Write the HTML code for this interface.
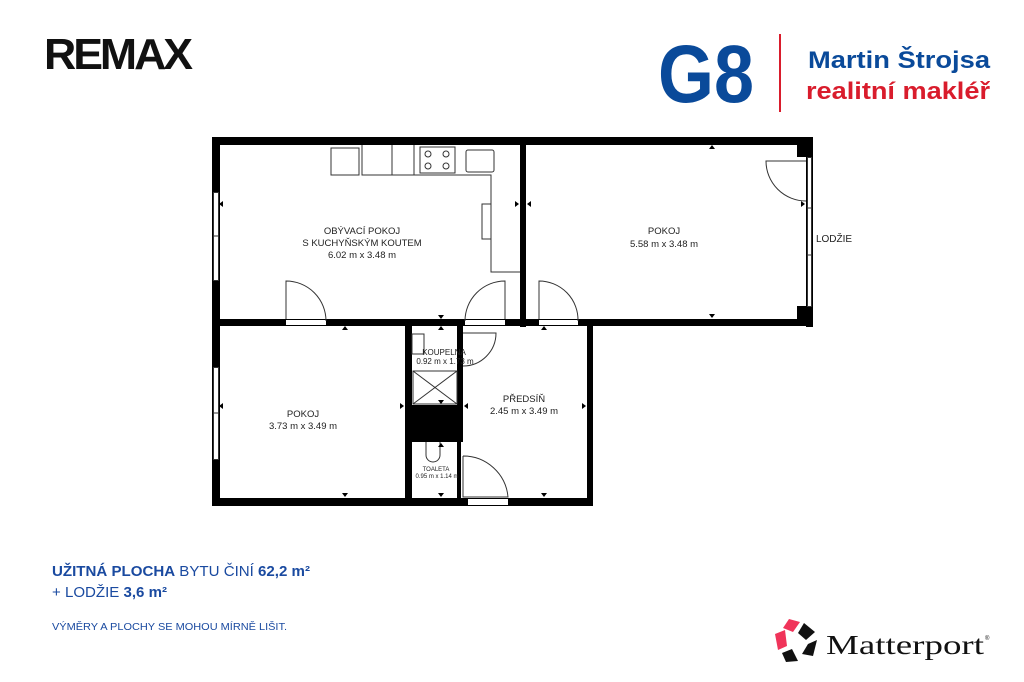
<!DOCTYPE html>
<html><head><meta charset="utf-8"><style>
html,body{margin:0;padding:0;background:#fff;width:1024px;height:682px;overflow:hidden}
svg{display:block}
</style></head><body>
<svg width="1024" height="682" viewBox="0 0 1024 682" xmlns="http://www.w3.org/2000/svg" font-family="Liberation Sans, DejaVu Sans, sans-serif">
<!-- REMAX -->
<text x="44" y="69" font-size="44" font-weight="bold" letter-spacing="-3" fill="#111" textLength="146" lengthAdjust="spacingAndGlyphs">REMAX</text>
<!-- G8 -->
<text x="658" y="102" font-size="82" font-weight="bold" fill="#0a4a9a" textLength="96" lengthAdjust="spacingAndGlyphs">G8</text>
<rect x="779" y="34" width="2" height="78" fill="#d91c2c"/>
<text x="808" y="68" font-size="24" font-weight="bold" fill="#0a4a9a" textLength="182" lengthAdjust="spacingAndGlyphs">Martin Štrojsa</text>
<text x="806" y="99" font-size="24" font-weight="bold" fill="#d91c2c" textLength="184" lengthAdjust="spacingAndGlyphs">realitní makléř</text>

<!-- floor plan -->
<g fill="#000">
 <rect x="212" y="137" width="601" height="8"/>
 <rect x="212" y="137" width="8" height="369"/>
 <rect x="806" y="137" width="7" height="190"/>
 <rect x="797" y="145" width="10" height="12"/>
 <rect x="797" y="306" width="10" height="14"/>
 <rect x="520" y="137" width="6" height="190"/>
 <rect x="212" y="319" width="601" height="7"/>
 <rect x="212" y="498" width="381" height="8"/>
 <rect x="587" y="320" width="6" height="186"/>
 <rect x="405" y="320" width="7" height="186"/>
 <rect x="457" y="320" width="6" height="120"/>
 <rect x="405" y="405" width="58" height="37"/>
 <rect x="457" y="440" width="4" height="60"/>
</g>
<g fill="#fff">
 <rect x="213" y="192" width="6" height="88"/>
 <rect x="213" y="367" width="6" height="92"/>
 <rect x="807" y="157" width="5" height="149"/>
 <rect x="286" y="320" width="40" height="5"/>
 <rect x="465" y="320" width="40" height="5"/>
 <rect x="539" y="320" width="39" height="5"/>
 <rect x="468" y="499" width="40" height="6"/>
</g>
<g fill="none" stroke="#333" stroke-width="1">
 <rect x="213.5" y="192.5" width="5" height="88"/><line x1="213" y1="236" x2="219" y2="236"/>
 <rect x="213.5" y="367.5" width="5" height="92"/><line x1="213" y1="413" x2="219" y2="413"/>
 <rect x="807.5" y="157.5" width="4" height="149"/><line x1="807" y1="208" x2="812" y2="208"/><line x1="807" y1="255" x2="812" y2="255"/>
 <polyline points="362,145 362,175 491,175 491,272 520,272"/>
 <rect x="331" y="148" width="28" height="27"/>
 <line x1="392" y1="145" x2="392" y2="175"/><line x1="414" y1="145" x2="414" y2="175"/>
 <rect x="420" y="147" width="35" height="26"/>
 <circle cx="428" cy="154" r="3"/><circle cx="446" cy="154" r="3"/><circle cx="428" cy="166" r="3"/><circle cx="446" cy="166" r="3"/>
 <rect x="466" y="150" width="28" height="22" rx="2"/>
 <rect x="482" y="204" width="9" height="35"/>
 <path d="M286 319 V281 A40 40 0 0 1 326 321"/>
 <path d="M505 319 V281 A40 40 0 0 0 465 321"/>
 <path d="M539 319 V281 A39 39 0 0 1 578 321"/>
 <path d="M806 161 H766 A40 40 0 0 0 806 201"/>
 <path d="M463 333 H496 A33 33 0 0 1 463 366"/>
 <path d="M463 456 V497 H508 A45 45 0 0 0 463 456"/>
 <rect x="412" y="334" width="12" height="20"/>
 <rect x="413" y="371" width="44" height="33"/><line x1="413" y1="371" x2="457" y2="404"/><line x1="457" y1="371" x2="413" y2="404"/>
 <path d="M426 442 V455 A7 7 0 0 0 440 455 V442"/>
</g>
<g fill="#000">
 <path d="M219 204 l4 -3 v6z"/><path d="M519 204 l-4 -3 v6z"/><path d="M527 204 l4 -3 v6z"/>
 <path d="M805 204 l-4 -3 v6z"/><path d="M712 145 l-3 4 h6z"/><path d="M712 318 l-3 -4 h6z"/>
 <path d="M345 326 l-3 4 h6z"/><path d="M441 319 l-3 -4 h6z"/><path d="M441 326 l-3 4 h6z"/>
 <path d="M544 326 l-3 4 h6z"/><path d="M219 406 l4 -3 v6z"/><path d="M404 406 l-4 -3 v6z"/>
 <path d="M464 406 l4 -3 v6z"/><path d="M586 406 l-4 -3 v6z"/><path d="M345 497 l-3 -4 h6z"/>
 <path d="M544 497 l-3 -4 h6z"/><path d="M441 404 l-3 -4 h6z"/><path d="M441 497 l-3 -4 h6z"/><path d="M441 443 l-3 4 h6z"/>
</g>
<g font-size="9.5" fill="#222" text-anchor="middle">
 <text x="362" y="234">OBÝVACÍ POKOJ</text>
 <text x="362" y="246">S KUCHYŇSKÝM KOUTEM</text>
 <text x="362" y="258">6.02 m x 3.48 m</text>
 <text x="664" y="234">POKOJ</text>
 <text x="664" y="247">5.58 m x 3.48 m</text>
 <text x="303" y="417">POKOJ</text>
 <text x="303" y="429">3.73 m x 3.49 m</text>
 <text x="524" y="402">PŘEDSÍŇ</text>
 <text x="524" y="414">2.45 m x 3.49 m</text>
 <text x="444" y="355" font-size="8">KOUPELNA</text>
 <text x="445" y="364" font-size="8">0.92 m x 1.73 m</text>
 <text x="436" y="471" font-size="6">TOALETA</text>
 <text x="437" y="478" font-size="6">0.95 m x 1.14 m</text>
 <text x="834" y="242" font-size="10">LODŽIE</text>
</g>

<text x="52" y="576" font-size="14.5" fill="#1a4aa0" textLength="258" lengthAdjust="spacingAndGlyphs"><tspan font-weight="bold">UŽITNÁ PLOCHA</tspan> BYTU ČINÍ <tspan font-weight="bold">62,2 m²</tspan></text>
<text x="52" y="597" font-size="14.5" fill="#1a4aa0"  textLength="115" lengthAdjust="spacingAndGlyphs">+ LODŽIE <tspan font-weight="bold">3,6 m²</tspan></text>
<text x="52" y="630" font-size="10.5" fill="#1a4aa0" textLength="235" lengthAdjust="spacingAndGlyphs">VÝMĚRY A PLOCHY SE MOHOU MÍRNĚ LIŠIT.</text>

<polygon points="789,619 800,622 793,632 783,628" fill="#f0345a"/>
<polygon points="775,634 785,630 787,646 778,650" fill="#f0345a"/>
<polygon points="804,623 815,632 806,640 798,633" fill="#111"/>
<polygon points="808,644 817,640 813,656 802,654" fill="#111"/>
<polygon points="782,653 792,649 798,661 786,662" fill="#111"/>
<text x="826" y="654" font-size="27" fill="#111" font-family="Liberation Serif, serif" textLength="158" lengthAdjust="spacingAndGlyphs">Matterport</text>
<text x="985" y="640" font-size="6" fill="#111">®</text>
</svg>
</body></html>
